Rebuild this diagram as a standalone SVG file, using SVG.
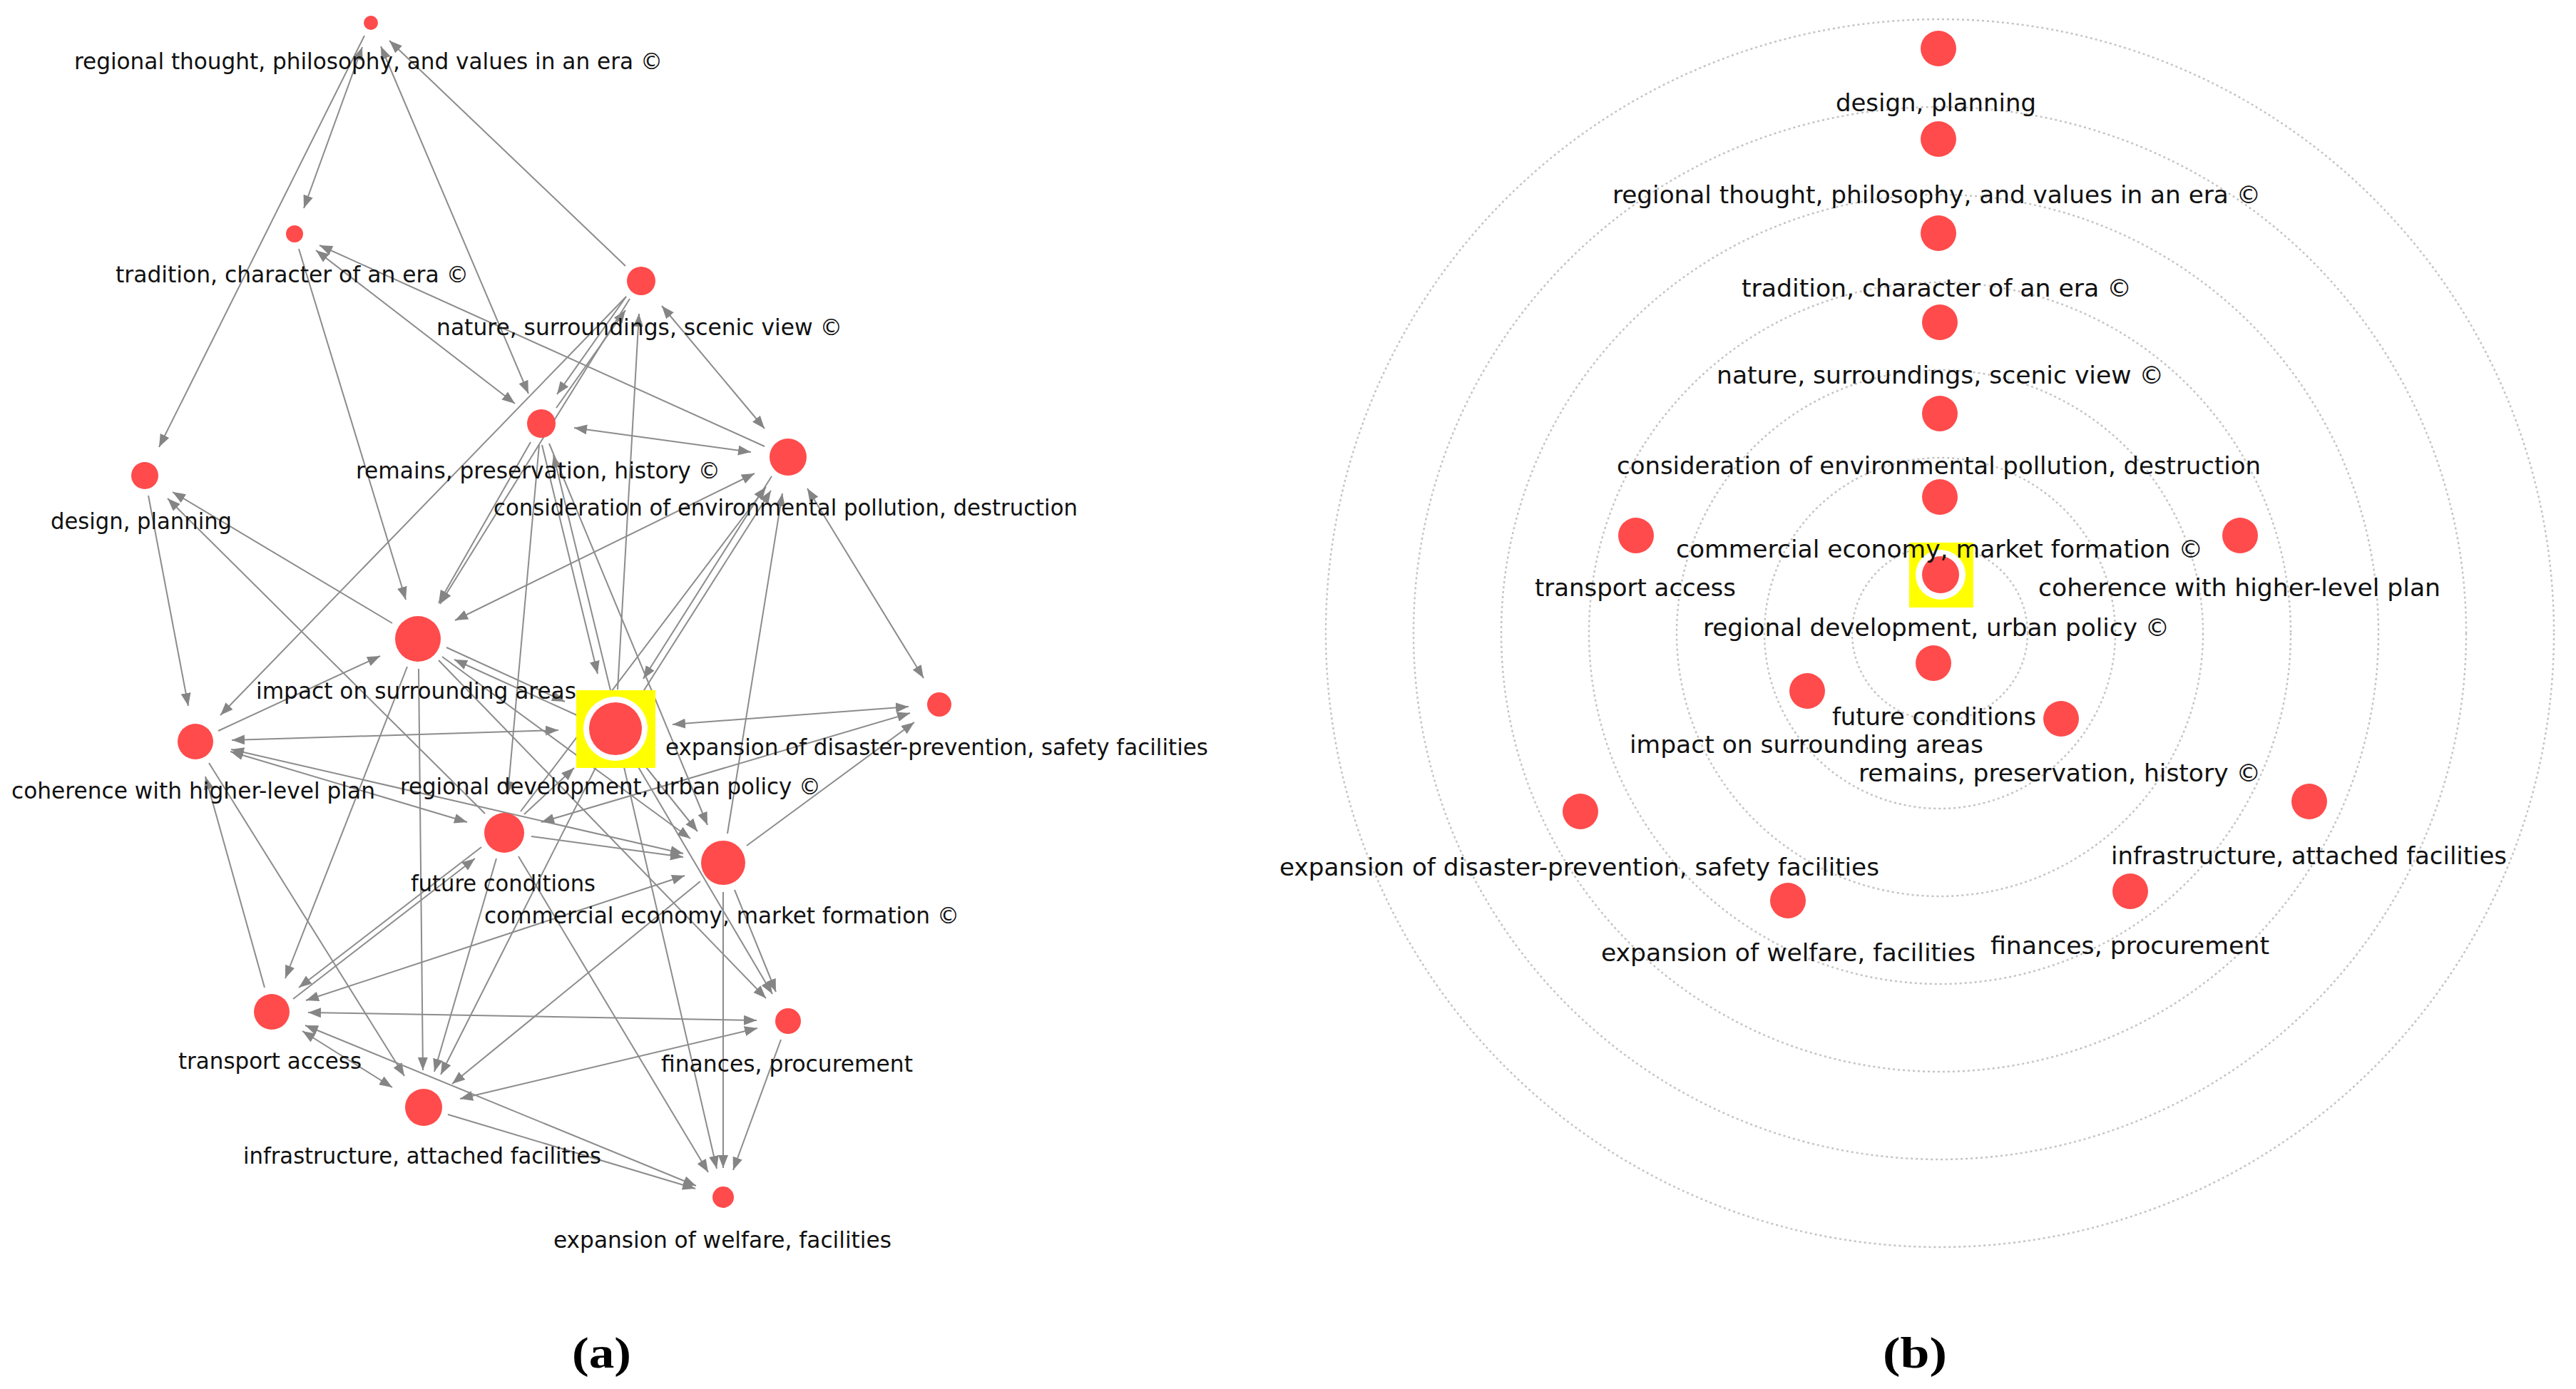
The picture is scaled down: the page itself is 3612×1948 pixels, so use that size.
<svg xmlns="http://www.w3.org/2000/svg" width="3612" height="1948" viewBox="0 0 3612 1948">
<style>
.bg{fill:#ffffff}
.ea{stroke:#8c8c8c;stroke-width:2;fill:none;marker-end:url(#ah)}
.eb{stroke:#8c8c8c;stroke-width:2;fill:none;marker-start:url(#ah);marker-end:url(#ah)}
.n{fill:#ff4b4b}
.ring{fill:#ffffff}
.hl{fill:#ffff00}
.la{font-family:"DejaVu Sans Condensed","DejaVu Sans",sans-serif;font-size:32px;fill:#111111}
.lb{font-family:"DejaVu Sans Condensed","DejaVu Sans",sans-serif;font-size:34px;fill:#111111}
.orb{fill:none;stroke:#c4c4c4;stroke-width:2.5;stroke-dasharray:3 4}
.cap{font-family:"Liberation Serif","Times New Roman",serif;font-size:62px;font-weight:bold;fill:#000000}
</style>
<defs>
<marker id="ah" viewBox="0 0 18 14" refX="18" refY="7" markerWidth="18" markerHeight="14" markerUnits="userSpaceOnUse" orient="auto-start-reverse">
<path d="M0,0 L18,7 L0,14 z" fill="#858585"/>
</marker>
</defs>
<rect class="bg" x="0" y="0" width="3612" height="1948"/>

<!-- Panel (a) connectors -->
<g id="connectors-a">
<line class="eb" x1="508" y1="66" x2="426" y2="292"/>
<line class="ea" x1="511" y1="50" x2="223" y2="627"/>
<line class="eb" x1="534" y1="65" x2="741" y2="552"/>
<line class="ea" x1="877" y1="373" x2="546" y2="57"/>
<line class="eb" x1="443" y1="351" x2="722" y2="566"/>
<line class="ea" x1="1072" y1="626" x2="448" y2="344"/>
<line class="ea" x1="419" y1="349" x2="569" y2="841"/>
<line class="ea" x1="550" y1="874" x2="242" y2="690"/>
<line class="ea" x1="680" y1="1141" x2="235" y2="699"/>
<line class="ea" x1="208" y1="695" x2="264" y2="990"/>
<line class="ea" x1="878" y1="416" x2="781" y2="553"/>
<line class="ea" x1="780" y1="572" x2="877" y2="435"/>
<line class="ea" x1="878" y1="416" x2="309" y2="1003"/>
<line class="eb" x1="1058" y1="664" x2="638" y2="870"/>
<line class="ea" x1="744" y1="620" x2="615" y2="846"/>
<line class="ea" x1="883" y1="419" x2="617" y2="847"/>
<line class="ea" x1="756" y1="624" x2="712" y2="1114"/>
<line class="ea" x1="760" y1="624" x2="838" y2="945"/>
<line class="ea" x1="856" y1="968" x2="776" y2="638"/>
<line class="ea" x1="1082" y1="668" x2="902" y2="952"/>
<line class="ea" x1="896" y1="979" x2="1081" y2="688"/>
<line class="ea" x1="770" y1="622" x2="992" y2="1157"/>
<line class="eb" x1="928" y1="429" x2="1072" y2="601"/>
<line class="ea" x1="866" y1="967" x2="896" y2="440"/>
<line class="eb" x1="805" y1="600" x2="1053" y2="634"/>
<line class="ea" x1="730" y1="1138" x2="1074" y2="683"/>
<line class="ea" x1="1020" y1="1169" x2="1097" y2="692"/>
<line class="eb" x1="1295" y1="951" x2="1132" y2="685"/>
<line class="ea" x1="626" y1="908" x2="792" y2="984"/>
<line class="ea" x1="811" y1="1004" x2="637" y2="925"/>
<line class="eb" x1="325" y1="1038" x2="783" y2="1024"/>
<line class="ea" x1="306" y1="1025" x2="533" y2="920"/>
<line class="eb" x1="323" y1="1054" x2="655" y2="1153"/>
<line class="eb" x1="324" y1="1051" x2="958" y2="1197"/>
<line class="ea" x1="371" y1="1385" x2="288" y2="1089"/>
<line class="ea" x1="293" y1="1070" x2="567" y2="1509"/>
<line class="ea" x1="571" y1="935" x2="400" y2="1372"/>
<line class="ea" x1="587" y1="938" x2="593" y2="1501"/>
<line class="ea" x1="615" y1="926" x2="1074" y2="1400"/>
<line class="ea" x1="675" y1="1188" x2="419" y2="1385"/>
<line class="ea" x1="411" y1="1401" x2="666" y2="1204"/>
<line class="eb" x1="960" y1="1228" x2="429" y2="1403"/>
<line class="eb" x1="1061" y1="1431" x2="432" y2="1420"/>
<line class="eb" x1="424" y1="1446" x2="550" y2="1525"/>
<line class="eb" x1="428" y1="1438" x2="976" y2="1663"/>
<line class="ea" x1="696" y1="1204" x2="609" y2="1503"/>
<line class="ea" x1="838" y1="1071" x2="618" y2="1507"/>
<line class="ea" x1="982" y1="1236" x2="634" y2="1520"/>
<line class="eb" x1="1062" y1="1442" x2="645" y2="1541"/>
<line class="ea" x1="628" y1="1563" x2="975" y2="1667"/>
<line class="ea" x1="727" y1="1201" x2="993" y2="1644"/>
<line class="ea" x1="1014" y1="1251" x2="1014" y2="1638"/>
<line class="ea" x1="1095" y1="1458" x2="1028" y2="1641"/>
<line class="ea" x1="875" y1="1076" x2="1005" y2="1639"/>
<line class="ea" x1="891" y1="1069" x2="1083" y2="1394"/>
<line class="ea" x1="1030" y1="1248" x2="1088" y2="1391"/>
<line class="eb" x1="943" y1="1016" x2="1274" y2="991"/>
<line class="eb" x1="759" y1="1153" x2="1276" y2="1000"/>
<line class="ea" x1="1047" y1="1186" x2="1282" y2="1013"/>
<line class="ea" x1="745" y1="1173" x2="958" y2="1202"/>
<line class="ea" x1="735" y1="1142" x2="805" y2="1077"/>
<line class="ea" x1="897" y1="1065" x2="978" y2="1166"/>
<line class="ea" x1="620" y1="921" x2="968" y2="1176"/>
</g>

<!-- Panel (a) nodes -->
<g id="a-regional-development"><rect class="hl" x="808" y="968" width="111" height="109"/><circle class="ring" cx="863" cy="1022" r="45"/><circle class="n" cx="863" cy="1022" r="37"/><text class="la" x="561" y="1114" textLength="590" lengthAdjust="spacingAndGlyphs">regional development, urban policy ©</text></g>
<g id="a-regional-thought"><circle class="n" cx="520" cy="32" r="10"/><text class="la" x="104" y="97" textLength="825" lengthAdjust="spacingAndGlyphs">regional thought, philosophy, and values in an era ©</text></g>
<g id="a-tradition"><circle class="n" cx="413" cy="328" r="12"/><text class="la" x="162" y="396" textLength="495" lengthAdjust="spacingAndGlyphs">tradition, character of an era ©</text></g>
<g id="a-nature"><circle class="n" cx="899" cy="394" r="20"/><text class="la" x="612" y="470" textLength="569" lengthAdjust="spacingAndGlyphs">nature, surroundings, scenic view ©</text></g>
<g id="a-remains"><circle class="n" cx="759" cy="594" r="20"/><text class="la" x="499" y="671" textLength="511" lengthAdjust="spacingAndGlyphs">remains, preservation, history ©</text></g>
<g id="a-consideration"><circle class="n" cx="1105" cy="641" r="26"/><text class="la" x="692" y="723" textLength="819" lengthAdjust="spacingAndGlyphs">consideration of environmental pollution, destruction</text></g>
<g id="a-design"><circle class="n" cx="203" cy="667" r="19"/><text class="la" x="71" y="742" textLength="254" lengthAdjust="spacingAndGlyphs">design, planning</text></g>
<g id="a-impact"><circle class="n" cx="586" cy="896" r="32"/><text class="la" x="359" y="980" textLength="449" lengthAdjust="spacingAndGlyphs">impact on surrounding areas</text></g>
<g id="a-coherence"><circle class="n" cx="274" cy="1040" r="25"/><text class="la" x="16" y="1120" textLength="510" lengthAdjust="spacingAndGlyphs">coherence with higher-level plan</text></g>
<g id="a-disaster"><circle class="n" cx="1317" cy="988" r="17"/><text class="la" x="933" y="1059" textLength="761" lengthAdjust="spacingAndGlyphs">expansion of disaster-prevention, safety facilities</text></g>
<g id="a-future"><circle class="n" cx="707" cy="1168" r="28"/><text class="la" x="576" y="1250" textLength="259" lengthAdjust="spacingAndGlyphs">future conditions</text></g>
<g id="a-commercial"><circle class="n" cx="1014" cy="1210" r="31"/><text class="la" x="679" y="1295" textLength="666" lengthAdjust="spacingAndGlyphs">commercial economy, market formation ©</text></g>
<g id="a-transport"><circle class="n" cx="381" cy="1419" r="25"/><text class="la" x="250" y="1499" textLength="257" lengthAdjust="spacingAndGlyphs">transport access</text></g>
<g id="a-finances"><circle class="n" cx="1105" cy="1432" r="18"/><text class="la" x="927" y="1503" textLength="353" lengthAdjust="spacingAndGlyphs">finances, procurement</text></g>
<g id="a-infrastructure"><circle class="n" cx="594" cy="1553" r="26"/><text class="la" x="341" y="1632" textLength="502" lengthAdjust="spacingAndGlyphs">infrastructure, attached facilities</text></g>
<g id="a-welfare"><circle class="n" cx="1014" cy="1679" r="15"/><text class="la" x="776" y="1750" textLength="474" lengthAdjust="spacingAndGlyphs">expansion of welfare, facilities</text></g>
<text class="cap" x="802" y="1918" textLength="83" lengthAdjust="spacingAndGlyphs">(a)</text>

<!-- Panel (b) orbits -->
<g id="orbits-b">
<circle class="orb" cx="2720" cy="888" r="123"/>
<circle class="orb" cx="2720" cy="888" r="246"/>
<circle class="orb" cx="2720" cy="888" r="369"/>
<circle class="orb" cx="2720" cy="888" r="492"/>
<circle class="orb" cx="2720" cy="888" r="615"/>
<circle class="orb" cx="2720" cy="888" r="738"/>
<circle class="orb" cx="2720" cy="888" r="861"/>
</g>

<!-- Panel (b) nodes -->
<g id="b-regional-development"><rect class="hl" x="2677" y="761" width="90" height="91"/><circle class="ring" cx="2721" cy="806" r="35"/><circle class="n" cx="2721" cy="806" r="26"/><text class="lb" x="2388" y="892" textLength="654" lengthAdjust="spacingAndGlyphs">regional development, urban policy ©</text></g>
<g id="b-design"><circle class="n" cx="2718" cy="68" r="25"/><text class="lb" x="2574" y="156" textLength="281" lengthAdjust="spacingAndGlyphs">design, planning</text></g>
<g id="b-regional-thought"><circle class="n" cx="2718" cy="195" r="25"/><text class="lb" x="2261" y="285" textLength="909" lengthAdjust="spacingAndGlyphs">regional thought, philosophy, and values in an era ©</text></g>
<g id="b-tradition"><circle class="n" cx="2718" cy="327" r="25"/><text class="lb" x="2442" y="416" textLength="547" lengthAdjust="spacingAndGlyphs">tradition, character of an era ©</text></g>
<g id="b-nature"><circle class="n" cx="2720" cy="452" r="25"/><text class="lb" x="2407" y="538" textLength="627" lengthAdjust="spacingAndGlyphs">nature, surroundings, scenic view ©</text></g>
<g id="b-consideration"><circle class="n" cx="2720" cy="580" r="25"/><text class="lb" x="2267" y="665" textLength="903" lengthAdjust="spacingAndGlyphs">consideration of environmental pollution, destruction</text></g>
<g id="b-commercial"><circle class="n" cx="2720" cy="697" r="25"/><text class="lb" x="2350" y="782" textLength="739" lengthAdjust="spacingAndGlyphs">commercial economy, market formation ©</text></g>
<g id="b-transport"><circle class="n" cx="2294" cy="751" r="25"/><text class="lb" x="2152" y="836" textLength="282" lengthAdjust="spacingAndGlyphs">transport access</text></g>
<g id="b-coherence"><circle class="n" cx="3141" cy="751" r="25"/><text class="lb" x="2858" y="836" textLength="564" lengthAdjust="spacingAndGlyphs">coherence with higher-level plan</text></g>
<g id="b-future"><circle class="n" cx="2711" cy="930" r="25"/><text class="lb" x="2569" y="1017" textLength="286" lengthAdjust="spacingAndGlyphs">future conditions</text></g>
<g id="b-impact"><circle class="n" cx="2534" cy="969" r="25"/><text class="lb" x="2285" y="1056" textLength="496" lengthAdjust="spacingAndGlyphs">impact on surrounding areas</text></g>
<g id="b-remains"><circle class="n" cx="2890" cy="1008" r="25"/><text class="lb" x="2606" y="1096" textLength="564" lengthAdjust="spacingAndGlyphs">remains, preservation, history ©</text></g>
<g id="b-disaster"><circle class="n" cx="2216" cy="1138" r="25"/><text class="lb" x="1794" y="1228" textLength="841" lengthAdjust="spacingAndGlyphs">expansion of disaster-prevention, safety facilities</text></g>
<g id="b-infrastructure"><circle class="n" cx="3238" cy="1124" r="25"/><text class="lb" x="2960" y="1212" textLength="555" lengthAdjust="spacingAndGlyphs">infrastructure, attached facilities</text></g>
<g id="b-welfare"><circle class="n" cx="2507" cy="1263" r="25"/><text class="lb" x="2245" y="1348" textLength="525" lengthAdjust="spacingAndGlyphs">expansion of welfare, facilities</text></g>
<g id="b-finances"><circle class="n" cx="2987" cy="1250" r="25"/><text class="lb" x="2791" y="1338" textLength="391" lengthAdjust="spacingAndGlyphs">finances, procurement</text></g>
<text class="cap" x="2640" y="1918" textLength="90" lengthAdjust="spacingAndGlyphs">(b)</text>
</svg>
